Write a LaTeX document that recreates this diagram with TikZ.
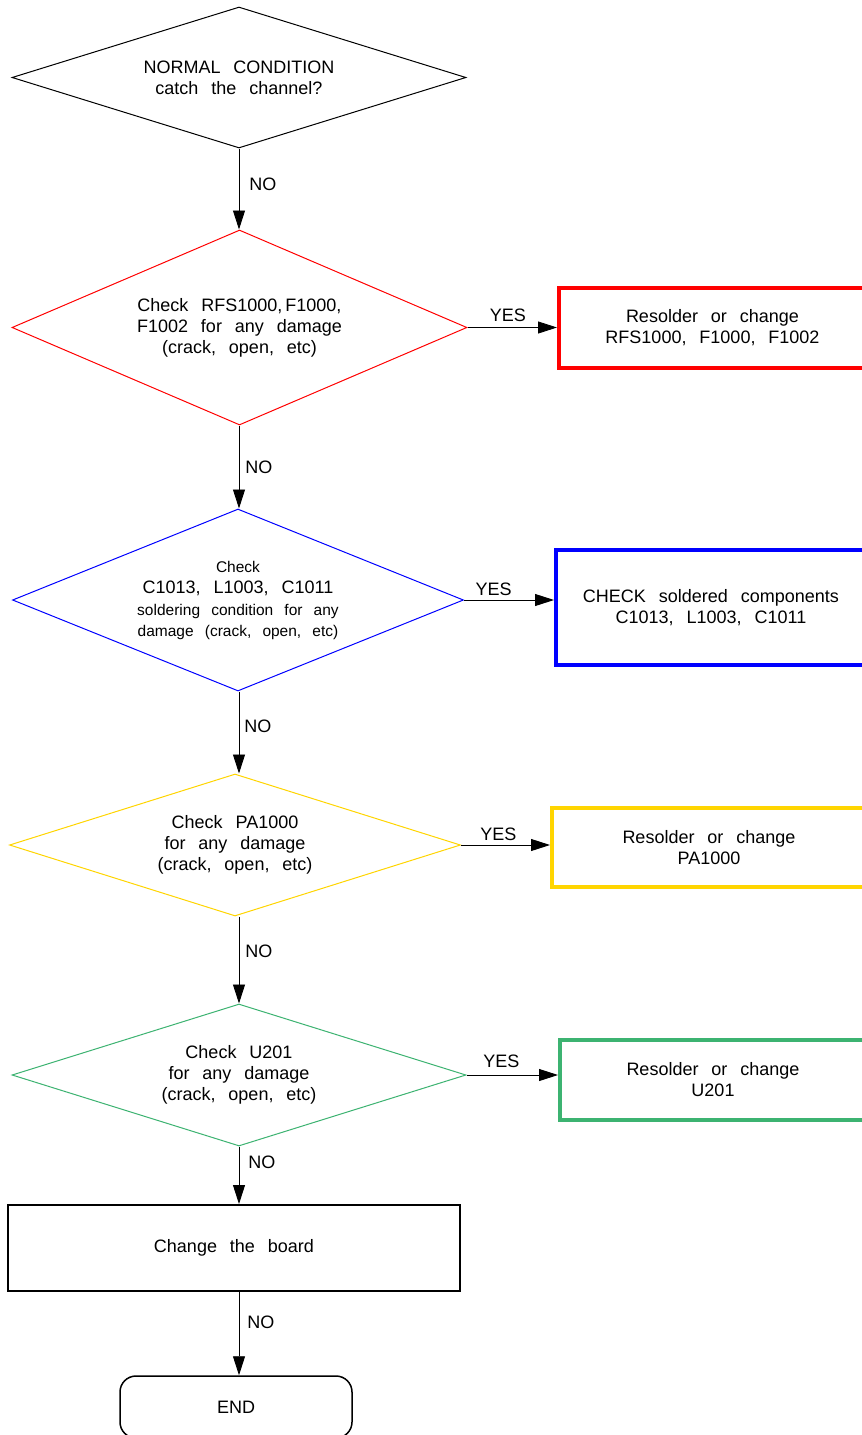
\documentclass[tikz,border=0pt]{standalone}
\usepackage{fontspec}
\setmainfont{Liberation Sans}
\usetikzlibrary{shapes.geometric,arrows.meta}
\definecolor{cred}{RGB}{255,0,0}
\definecolor{cblue}{RGB}{0,0,255}
\definecolor{cyel}{RGB}{255,213,0}
\definecolor{cgreen}{RGB}{60,179,113}
\newcommand\myfs[2]{\fontsize{#1}{#2}\selectfont\spaceskip=0.72em\relax}
\begin{document}
\begin{tikzpicture}[x=1pt,y=-1pt,
  dec/.style={diamond, draw, inner sep=0pt, line width=1pt, align=center, font=\myfs{18pt}{21pt}},
  act/.style={rectangle, draw, inner sep=0pt, line width=4pt, align=center, font=\myfs{18pt}{21pt}},
  arr/.style={line width=0.9pt, -{Triangle[length=19pt,width=12pt]}},
  lbl/.style={font=\myfs{18pt}{21pt}, inner sep=0pt}
]
\clip (0,0) rectangle (862,1435);
\fill[white] (0,0) rectangle (862,1435);

% decisions
\node[dec, aspect=3.22, minimum width=454pt, minimum height=141pt] (d0) at (239,77.5)
  {NORMAL CONDITION\\catch the channel?};
\node[dec, draw=cred, aspect=2.333, minimum width=455pt, minimum height=195pt] (d1) at (239.5,327.5)
  {Check RFS1000,\,F1000,\\F1002 for any damage\\(crack, open, etc)};
\node[dec, draw=cblue, aspect=2.478, minimum width=451pt, minimum height=182pt] (d2) at (238,600)
  {{\myfs{15.5pt}{25pt}Check}\\C1013, L1003, C1011\\[1pt]{\myfs{15.5pt}{23pt}soldering condition for any}\\{\myfs{15.5pt}{23pt}damage (crack, open, etc)}};
\node[dec, draw=cyel, aspect=3.176, minimum width=451pt, minimum height=142pt] (d3) at (235,845)
  {Check PA1000\\for any damage\\(crack, open, etc)};
\node[dec, draw=cgreen, aspect=3.197, minimum width=454pt, minimum height=142pt] (d4) at (239,1075)
  {Check U201\\for any damage\\(crack, open, etc)};

% actions
\node[act, draw=cred, minimum width=307pt, minimum height=80pt] (a1) at (712.5,328)
  {Resolder or change\\RFS1000, F1000, F1002};
\node[act, draw=cblue, minimum width=310pt, minimum height=115pt] (a2) at (711,607.5)
  {CHECK soldered components\\C1013, L1003, C1011};
\node[act, draw=cyel, minimum width=314pt, minimum height=79pt] (a3) at (709,847.5)
  {Resolder or change\\PA1000};
\node[act, draw=cgreen, minimum width=306pt, minimum height=80pt] (a4) at (713,1080)
  {Resolder or change\\U201};

\node[rectangle, draw, line width=2pt, inner sep=0pt, minimum width=452pt, minimum height=86pt,
  font=\myfs{18pt}{21pt}] (cb) at (234,1248) {Change the board};
\node[rectangle, draw, line width=1.5pt, rounded corners=16pt, inner sep=0pt,
  minimum width=232pt, minimum height=62pt, font=\myfs{18pt}{21pt}] (en) at (236,1407) {END};

% NO connectors
\draw[arr] (d0.south) -- node[lbl, pos=0.44, anchor=west, xshift=10pt]{NO} (d0.south |- d1.north);
\draw[arr] (d1.south -| d0.south) -- node[lbl, pos=0.5, anchor=west, xshift=6pt]{NO} (d0.south |- d2.north);
\draw[arr] (d2.south -| d0.south) -- node[lbl, pos=0.43, anchor=west, xshift=5pt]{NO} (d0.south |- d3.north);
\draw[arr] (d3.south -| d0.south) -- node[lbl, pos=0.4, anchor=west, xshift=6pt]{NO} (d0.south |- d4.north);
\draw[arr] (d4.south -| d0.south) -- node[lbl, pos=0.28, anchor=west, xshift=9pt]{NO} (d0.south |- cb.north);
\draw[arr] (cb.south -| d0.south) -- node[lbl, pos=0.36, anchor=west, xshift=8pt]{NO} (d0.south |- en.north);

% YES connectors
\draw[arr] (d1.east) -- node[lbl, pos=0.45, anchor=south, yshift=5pt]{YES} (d1.east -| a1.west);
\draw[arr] (d2.east) -- node[lbl, pos=0.33, anchor=south, yshift=4pt]{YES} (d2.east -| a2.west);
\draw[arr] (d3.east) -- node[lbl, pos=0.42, anchor=south, yshift=4pt]{YES} (d3.east -| a3.west);
\draw[arr] (d4.east) -- node[lbl, pos=0.38, anchor=south, yshift=7pt]{YES} (d4.east -| a4.west);
\end{tikzpicture}
\end{document}
